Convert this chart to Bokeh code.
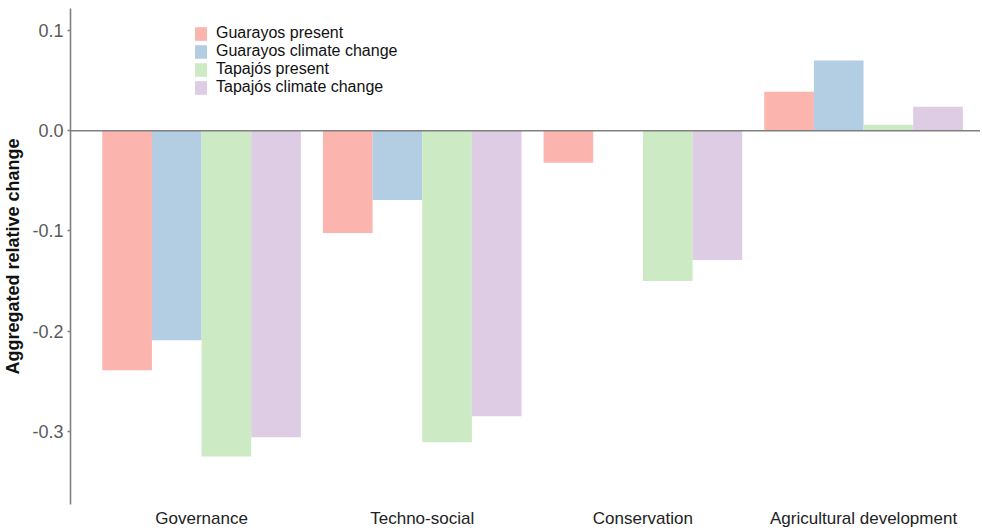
from bokeh.plotting import figure
from bokeh.models import (Range1d, FixedTicker, PrintfTickFormatter, Span,
                          Legend, LegendItem)
from bokeh.embed import file_html
from bokeh.resources import INLINE

categories = ["Governance", "Techno-social", "Conservation", "Agricultural development"]
series_names = ["Guarayos present", "Guarayos climate change",
                "Tapajós present", "Tapajós climate change"]
guarayos_present = [-0.239, -0.102, -0.032, 0.039]
guarayos_climate = [-0.209, -0.069, 0.0, 0.070]
tapajos_present = [-0.325, -0.311, -0.150, 0.006]
tapajos_climate = [-0.306, -0.285, -0.129, 0.024]
y_ticks = [-0.3, -0.2, -0.1, 0.0, 0.1]

colors = ["#FBB4AE", "#B3CDE3", "#CCEBC5", "#DECBE4"]
FONT = "Liberation Sans"

W, H = 980, 530
BL, BT, BB = 70, 8, 22
p = figure(width=W, height=H, output_backend="svg", toolbar_location=None,
           x_range=Range1d(0.406, 4.53), y_range=Range1d(-0.373, 0.122),
           min_border_left=BL, min_border_right=0, min_border_top=BT,
           min_border_bottom=BB)
p.outline_line_color = None
p.xgrid.visible = False
p.ygrid.visible = False
p.background_fill_color = "white"
p.border_fill_color = "white"

group_width = 0.9
n = 4
bw = group_width / n
all_series = [guarayos_present, guarayos_climate, tapajos_present, tapajos_climate]
renderers = []
for k, (vals, col) in enumerate(zip(all_series, colors)):
    xs = [i + 1 - group_width / 2 + bw * (k + 0.5) for i in range(len(categories))]
    r = p.vbar(x=xs, top=vals, bottom=0, width=bw, fill_color=col,
               line_color=None)
    renderers.append(r)

p.add_layout(Span(location=0, dimension="width", line_color="#808080",
                  line_width=1.6))

# y axis
ya = p.yaxis[0]
ya.ticker = FixedTicker(ticks=y_ticks)
ya.formatter = PrintfTickFormatter(format="%.1f")
ya.axis_line_color = "#808080"
ya.axis_line_width = 1.6
ya.major_tick_line_color = "#808080"
ya.major_tick_line_width = 1.4
ya.major_tick_out = 3
ya.major_tick_in = 0
ya.minor_tick_line_color = None
ya.major_label_text_font = FONT
ya.major_label_text_font_size = "18px"
ya.major_label_text_color = "#5a5a5a"
ya.major_label_standoff = 4
ya.axis_label = "Aggregated relative change"
ya.axis_label_text_font = FONT
ya.axis_label_text_font_size = "18px"
ya.axis_label_text_font_style = "bold"
ya.axis_label_text_color = "#111111"
ya.axis_label_standoff = 6

# x axis
xa = p.xaxis[0]
xa.ticker = FixedTicker(ticks=[1, 2, 3, 4])
xa.major_label_overrides = {i + 1: c for i, c in enumerate(categories)}
xa.axis_line_color = None
xa.major_tick_line_color = None
xa.major_tick_out = 0
xa.major_tick_in = 0
xa.minor_tick_line_color = None
xa.minor_tick_out = 0
xa.axis_label_standoff = 0
xa.major_label_text_font = FONT
xa.major_label_text_font_size = "17px"
xa.major_label_text_color = "#222222"
xa.major_label_standoff = 4

frame_h = H - BT - BB
leg_h = 4 * 17.5
legend = Legend(items=[LegendItem(label=s, renderers=[r])
                       for s, r in zip(series_names, renderers)],
                location=(123, frame_h - 22 - leg_h))
legend.border_line_color = None
legend.background_fill_alpha = 0
legend.padding = 0
legend.margin = 0
legend.spacing = 0
legend.glyph_width = 15
legend.glyph_height = 17
legend.label_height = 17
legend.label_standoff = 8
legend.label_text_font = FONT
legend.label_text_font_size = "16px"
legend.label_text_color = "#111111"
legend.label_text_baseline = "middle"
p.add_layout(legend, "center")

open("out.html", "w").write(file_html(p, INLINE))
